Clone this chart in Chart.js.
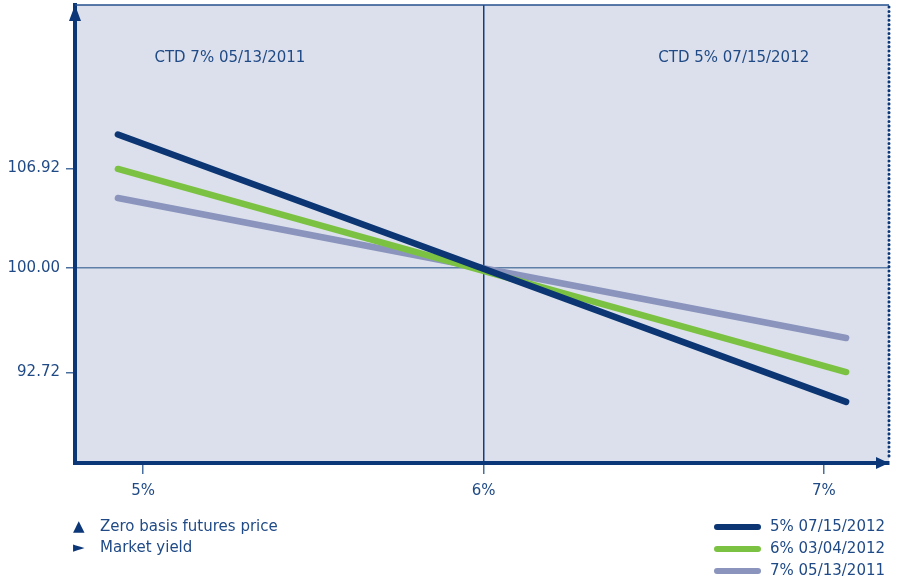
<!DOCTYPE html>
<html>
<head>
<meta charset="utf-8">
<script src="https://cdn.jsdelivr.net/npm/chart.js@4"></script>
<style>
html, body { margin: 0; padding: 0; background: #fff; }
</style>
</head>
<body>
<canvas id="chart" width="903" height="581"></canvas>
<script>
// values
const yields = [4.926, 7.065];
const bond5 = [109.29, 90.68];
const bond6 = [106.89, 92.76];
const bond7 = [104.87, 95.13];
const seriesNames = ['5% 07/15/2012', '6% 03/04/2012', '7% 05/13/2011'];
const seriesColors = ['#0b3673', '#7cc242', '#8a94bd'];
const xTicks = [5, 6, 7];
const xTickLabels = ['5%', '6%', '7%'];
const yTicks = [92.72, 100, 106.92];
const yTickLabels = ['92.72', '100.00', '106.92'];
const zoneLabels = ['CTD 7% 05/13/2011', 'CTD 5% 07/15/2012'];
const notes = [['▲', 'Zero basis futures price'], ['►', 'Market yield']];

const textColor = '#1f4a86';
const axisColor = '#0b3677';
const fontFamily = '"DejaVu Sans", sans-serif';

function pairs(values) {
    return yields.map((x, i) => ({ x: x, y: values[i] }));
}

const frame = {
    id: 'frame',
    beforeDraw(chart) {
        const { ctx, chartArea: a } = chart;
        ctx.save();
        ctx.fillStyle = '#dce0ec';
        ctx.fillRect(a.left, a.top, a.right - a.left, a.bottom - a.top);
        ctx.restore();
    },
    afterDraw(chart) {
        const { ctx, chartArea: a } = chart;
        const xs = chart.scales.x;
        ctx.save();
        // top border
        ctx.strokeStyle = '#24508e';
        ctx.lineWidth = 1.5;
        ctx.beginPath();
        ctx.moveTo(a.left, a.top);
        ctx.lineTo(a.right, a.top);
        ctx.stroke();
        // dotted right border
        ctx.strokeStyle = axisColor;
        ctx.lineWidth = 3;
        ctx.lineCap = 'round';
        ctx.setLineDash([0.1, 4.3]);
        ctx.beginPath();
        ctx.moveTo(a.right, a.top + 2);
        ctx.lineTo(a.right, a.bottom - 4);
        ctx.stroke();
        ctx.setLineDash([]);
        // arrow heads
        ctx.fillStyle = axisColor;
        ctx.beginPath();
        ctx.moveTo(a.left, a.top);
        ctx.lineTo(a.left - 6, a.top + 16);
        ctx.lineTo(a.left + 6, a.top + 16);
        ctx.closePath();
        ctx.fill();
        ctx.beginPath();
        ctx.moveTo(a.right, a.bottom);
        ctx.lineTo(a.right - 13, a.bottom - 6);
        ctx.lineTo(a.right - 13, a.bottom + 6);
        ctx.closePath();
        ctx.fill();

        // zone labels
        ctx.font = '15px ' + fontFamily;
        ctx.fillStyle = textColor;
        ctx.textAlign = 'center';
        ctx.textBaseline = 'middle';
        ctx.fillText(zoneLabels[0], xs.getPixelForValue(5.255), 58);
        ctx.fillText(zoneLabels[1], xs.getPixelForValue(6.735), 58);

        // legend
        ctx.textAlign = 'left';
        chart.data.datasets.forEach((ds, i) => {
            const y = 527 + i * 22;
            ctx.strokeStyle = ds.borderColor;
            ctx.lineWidth = 6;
            ctx.lineCap = 'round';
            ctx.beginPath();
            ctx.moveTo(717, y);
            ctx.lineTo(758, y);
            ctx.stroke();
            ctx.fillText(ds.label, 770, y);
        });

        // axis notes
        notes.forEach((n, i) => {
            const y = 527 + i * 21;
            ctx.fillStyle = axisColor;
            ctx.font = '15px ' + fontFamily;
            ctx.fillText(n[0], 73, y);
            ctx.fillStyle = textColor;
            ctx.fillText(n[1], 100, y);
        });
        ctx.restore();
    }
};

const ctx = document.getElementById('chart').getContext('2d');
const chart = new Chart(ctx, {
    type: 'line',
    data: {
        datasets: [
            { label: seriesNames[0], data: pairs(bond5), borderColor: seriesColors[0] },
            { label: seriesNames[1], data: pairs(bond6), borderColor: seriesColors[1] },
            { label: seriesNames[2], data: pairs(bond7), borderColor: seriesColors[2] }
        ]
    },
    options: {
        responsive: false,
        devicePixelRatio: 1,
        animation: false,
        layout: { padding: { left: 0, right: 14, top: 5, bottom: 0 } },
        elements: {
            line: { borderWidth: 6.5, borderCapStyle: 'round', tension: 0 },
            point: { radius: 0 }
        },
        plugins: {
            legend: { display: false },
            tooltip: { enabled: false }
        },
        scales: {
            x: {
                type: 'linear',
                min: 4.80,
                max: 7.191,
                afterBuildTicks: s => { s.ticks = xTicks.map(v => ({ value: v })); },
                afterFit: s => { s.height = 118; s.paddingLeft = 0; s.paddingRight = 0; },
                ticks: {
                    autoSkip: false,
                    maxRotation: 0,
                    padding: 8,
                    color: textColor,
                    font: { family: fontFamily, size: 15 },
                    callback: (v, i) => xTickLabels[i]
                },
                grid: {
                    color: c => (c.tick && c.tick.value === 6) ? '#123f80' : 'rgba(0,0,0,0)',
                    lineWidth: 1.5,
                    tickColor: '#4a6f9e',
                    tickLength: 11
                },
                border: { color: axisColor, width: 4 }
            },
            y: {
                type: 'linear',
                min: 86.43,
                max: 118.30,
                afterBuildTicks: s => { s.ticks = yTicks.map(v => ({ value: v })); },
                afterFit: s => { s.width = 75; s.paddingTop = 0; s.paddingBottom = 0; },
                ticks: {
                    autoSkip: false,
                    padding: 6,
                    color: textColor,
                    font: { family: fontFamily, size: 15 },
                    callback: (v, i) => yTickLabels[i]
                },
                grid: {
                    color: c => (c.tick && c.tick.value === 100) ? '#5e80a8' : 'rgba(0,0,0,0)',
                    lineWidth: 1.5,
                    tickColor: '#4a6f9e',
                    tickLength: 9
                },
                border: { color: axisColor, width: 4 }
            }
        }
    },
    plugins: [frame]
});
</script>
</body>
</html>
